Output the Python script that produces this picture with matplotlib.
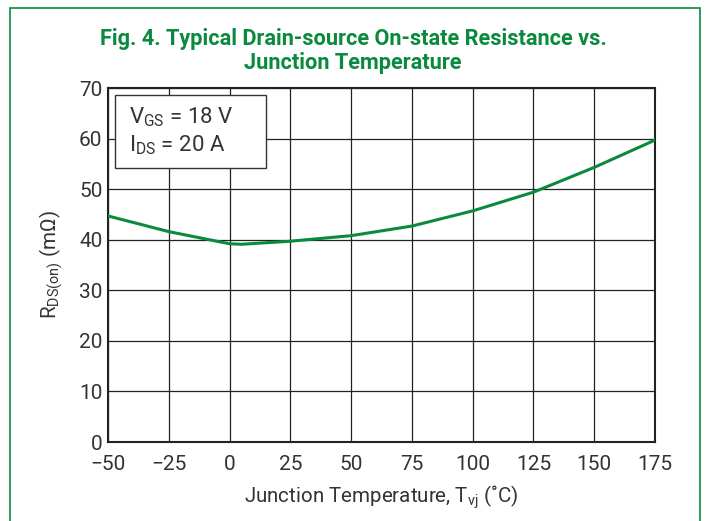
import matplotlib.pyplot as plt
from matplotlib.patches import Rectangle

# Tvj (°C) vs RDS(on) (mΩ)
temp = [-50, -25, 0, 5, 25, 50, 75, 100, 125, 150, 175]
rds_on = [44.7, 41.6, 39.2, 39.1, 39.7, 40.8, 42.7, 45.7, 49.4, 54.3, 59.7]

xticks = [-50, -25, 0, 25, 50, 75, 100, 125, 150, 175]
xticklabels = ['\u221250', '\u221225', '0', '25', '50', '75', '100', '125', '150', '175']
yticks = [0, 10, 20, 30, 40, 50, 60, 70]

green = '#0a8a3e'

plt.rcParams['font.family'] = ['Roboto', 'DejaVu Sans']
plt.rcParams['mathtext.fontset'] = 'custom'
plt.rcParams['mathtext.rm'] = 'Roboto'
plt.rcParams['mathtext.it'] = 'Roboto'

fig = plt.figure(figsize=(7.06, 5.21), dpi=100)
ax = fig.add_axes([108 / 706, 1 - 442 / 521, 547 / 706, 354 / 521])

# green frame around the whole figure
fig.patches.append(Rectangle((10 / 706, -0.05), 690 / 706, 1.05 - 8 / 521,
                             transform=fig.transFigure, fill=False,
                             edgecolor=green, linewidth=1.2))

ax.plot(temp, rds_on, color=green, linewidth=2.2, zorder=3)

ax.set_xlim(-50, 175)
ax.set_ylim(0, 70)
ax.set_xticks(xticks)
ax.set_xticklabels(xticklabels)
ax.set_yticks(yticks)
ax.grid(True, color='#222222', linewidth=0.9)
ax.tick_params(length=0, labelsize=15, colors='#333333')
ax.tick_params(axis='x', pad=9)
ax.tick_params(axis='y', pad=4)
for s in ax.spines.values():
    s.set_linewidth(1.5)
    s.set_color('#222222')

ax.set_xlabel('Junction Temperature, T$_{\\mathrm{vj}}$ (\u02daC)', fontsize=14.8,
              color='#333333', labelpad=7)
ax.set_ylabel('R$_{\\mathrm{DS(on)}}$ (m\u03a9)', fontsize=14.8, color='#333333', labelpad=10)

fig.text(0.5, 1 - 51 / 521,
         'Fig. 4. Typical Drain-source On-state Resistance vs.\nJunction Temperature',
         ha='center', va='center', fontsize=15.7, fontweight='bold', color=green,
         linespacing=1.1)

# condition box
ax.add_patch(Rectangle((-47.1, 54.2), 62.1, 14.4, facecolor='white',
                       edgecolor='#333333', linewidth=1.0, zorder=4))
ax.text(-41.5, 61.4, 'V$_{\\mathrm{GS}}$ = 18 V\nI$_{\\mathrm{DS}}$ = 20 A', fontsize=16,
        color='#333333', va='center', ha='left', linespacing=1.25, zorder=5)

fig.savefig('out.png', dpi=100)
